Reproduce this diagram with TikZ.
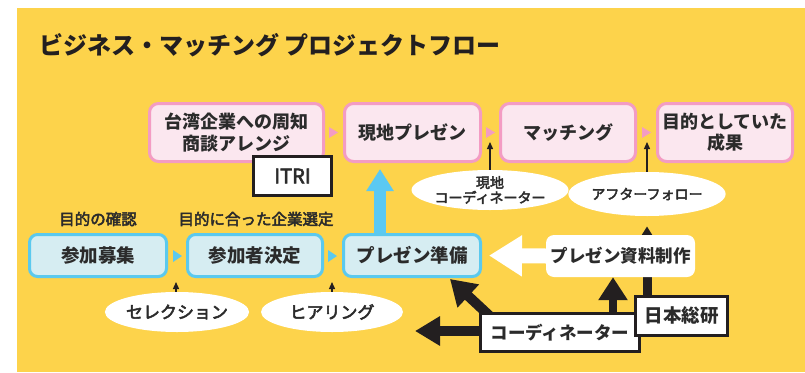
\documentclass[tikz,border=0pt]{standalone}
\usepackage{fontspec}
\setmainfont{Noto Sans CJK JP}
\newfontfamily\medfont{Noto Sans CJK JP}[FakeBold=3]
\usetikzlibrary{arrows.meta,shapes.geometric}
\definecolor{bgY}{HTML}{FDD34B}
\definecolor{pinkB}{HTML}{F39CC3}
\definecolor{pinkF}{HTML}{FBE7EF}
\definecolor{blueB}{HTML}{5BC9EE}
\definecolor{blueF}{HTML}{D6EDF2}
\definecolor{txt}{HTML}{2B2B2B}
\definecolor{arrB}{HTML}{5BC9F2}
\definecolor{blk}{HTML}{231F20}
\begin{document}
\begin{tikzpicture}[x=1pt,y=-1pt,
  pinkbox/.style={draw=pinkB, fill=pinkF, line width=3pt, rounded corners=9pt,
    font=\bfseries\fontsize{18}{21.5}\selectfont, text=txt, align=center, inner sep=0pt,
    minimum height=58pt},
  bluebox/.style={draw=blueB, fill=blueF, line width=3pt, rounded corners=8pt,
    font=\bfseries\fontsize{18.5}{22}\selectfont, text=txt, align=center, inner sep=0pt,
    minimum height=42pt},
  blkbox/.style={draw=blk, fill=white, line width=3.2pt, text=txt, inner sep=0pt,
    font=\bfseries\fontsize{17.5}{21}\selectfont, minimum height=38.5pt},
  oval/.style={ellipse, fill=white, inner sep=0pt, text=txt, align=center},
  lbl/.style={text=txt, font=\medfont\fontsize{15.5}{18}\selectfont, inner sep=0pt},
  thinarr/.style={draw=blk, line width=1.3pt, -{Triangle[length=7pt,width=6pt]}},
  bigarr/.style={draw=blk, line width=9.5pt, -{Triangle[length=24pt,width=29pt]}},
]
% background
\fill[white] (0,0) rectangle (805,372);
\fill[bgY] (17,8) rectangle (805,372);

% title
\node[anchor=west, inner sep=0pt, text=blk, font=\bfseries\fontsize{24}{27}\selectfont] (title) at (39,45) {ビジネス・マッチング プロジェクトフロー};

% top row
\node[pinkbox, minimum width=174pt] (b1) at (236.5,132.5) {台湾企業への周知\\商談アレンジ};
\node[pinkbox, minimum width=136pt] (b2) at (412.5,132.5) {現地プレゼン};
\node[pinkbox, minimum width=135pt] (b3) at (568,132.5) {マッチング};
\node[pinkbox, minimum width=135pt] (b4) at (725,132.5) {目的としていた\\成果};
\fill[pinkB] (329,127) -- (338,132.5) -- (329,138) -- cycle;
\fill[pinkB] (486,127) -- (495,132.5) -- (486,138) -- cycle;
\fill[pinkB] (642,127) -- (651,132.5) -- (642,138) -- cycle;

\node[blkbox, minimum width=78pt, font=\medfont\fontsize{20}{22}\selectfont] (itri) at (292.5,176) {ITRI};

% bottom row
\node[lbl] (l1) at (98,219) {目的の確認};
\node[lbl] (l2) at (256,219) {目的に合った企業選定};
\node[bluebox, minimum width=137pt] (c1) at (98,255.5) {参加募集};
\node[bluebox, minimum width=135pt] (c2) at (255,255.5) {参加者決定};
\node[bluebox, minimum width=137pt] (c3) at (412,255.5) {プレゼン準備};
\fill[blueB] (173,250) -- (182,256) -- (173,262) -- cycle;
\fill[blueB] (328,250) -- (337,256) -- (328,262) -- cycle;

% ellipses
\node[oval, minimum width=142pt, minimum height=40pt, font=\medfont\fontsize{17}{20}\selectfont] (sel) at (177,312) {セレクション};
\node[oval, minimum width=142pt, minimum height=40pt, font=\medfont\fontsize{17}{20}\selectfont] (hear) at (332,312) {ヒアリング};
\node[oval, minimum width=143pt, minimum height=40pt, font=\medfont\fontsize{14}{15}\selectfont] (loc) at (490,190) {現地\\コーディネーター};
\node[oval, minimum width=142pt, minimum height=44pt, font=\medfont\fontsize{14}{16}\selectfont] (aft) at (647,194) {アフターフォロー};

% thin arrows
\coordinate (t1) at (176,282);
\coordinate (t2) at (332,282);
\coordinate (t3) at (490,142);
\coordinate (t4) at (647,142);
\draw[thinarr] (sel.north -| t1) -- (t1);
\draw[thinarr] (hear.north) -- (t2);
\draw[thinarr] (loc.north) -- (t3);
\draw[thinarr] (aft.north) -- (t4);

% light blue arrow
\coordinate (ux) at (380,0);
\draw[draw=arrB, line width=12pt, -{Triangle[length=22pt,width=26pt]}, shorten >=6pt]
  (c3.north -| ux) -- (b2.south -| ux);

% after-follow arrow (behind the material box)
\coordinate (nstart) at (647,300);
\draw[bigarr, line width=9pt, -{Triangle[length=25pt,width=29pt]}, shorten >=10pt] (nstart) -- (aft.south);

% material box
\node[fill=white, rounded corners=8pt, minimum width=149pt, minimum height=42pt, inner sep=0pt,
  text=txt, font=\bfseries\fontsize{17.5}{20}\selectfont] (mat) at (620.5,256) {プレゼン資料制作};
\draw[white, line width=15pt, -{Triangle[length=33pt,width=39pt]}, shorten >=7pt] (mat.west) -- (c3.east);

\coordinate (mx) at (613,0);
\coordinate (cstart) at (613,318);
\draw[bigarr, line width=8.5pt, -{Triangle[length=23pt,width=28pt]}] (cstart) -- (mat.south -| mx);

\coordinate (dstart) at (494,320);
\coordinate (dtip) at (450,279);
\draw[bigarr, line width=10pt, -{Triangle[length=25pt,width=30pt]}] (dstart) -- (dtip);

\coordinate (ltip) at (415,331);
\coordinate (lstart) at (490,331);
\draw[bigarr, line width=10pt, -{Triangle[length=25pt,width=28pt]}] (lstart) -- (ltip);

\node[blkbox, minimum width=159pt] (coord) at (560,332.5) {コーディネーター};
\node[blkbox, minimum width=92pt, font=\bfseries\fontsize{18.5}{21}\selectfont] (nihon) at (681.5,316) {日本総研};
\end{tikzpicture}
\end{document}
